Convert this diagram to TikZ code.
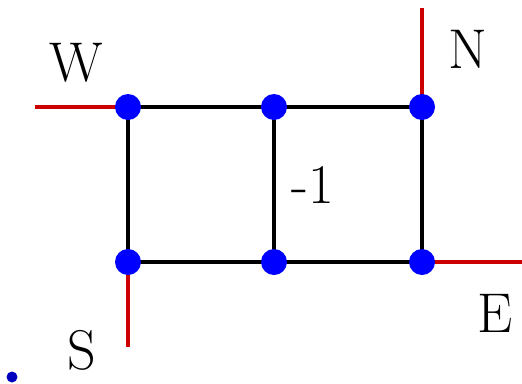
\documentclass[tikz,border=0pt]{standalone}
\usepackage{fontspec}
\usetikzlibrary{backgrounds}
\begin{document}
\begin{tikzpicture}[x=1pt,y=-1pt,
  vtx/.style={circle,fill=blue,inner sep=0pt,minimum size=26pt},
  edge/.style={line width=4pt,black},
  ext/.style={line width=3.5pt,red!80!black},
  lbl/.style={font=\rmfamily\fontsize{56}{64}\selectfont,inner sep=0pt}]
\useasboundingbox (0,0) rectangle (522,383);
\node[vtx] (a) at (128,107) {};
\node[vtx] (b) at (274,107) {};
\node[vtx] (c) at (422,107) {};
\node[vtx] (d) at (128,262) {};
\node[vtx] (f) at (274,262) {};
\node[vtx] (g) at (422,262) {};
\coordinate (w) at (35,107);
\coordinate (n) at (422,8);
\coordinate (e) at (524,262);
\coordinate (s) at (128,347);
\begin{scope}[on background layer]
\draw[ext] (w) -- (a.center);
\draw[ext] (n) -- (c.center);
\draw[ext] (e) -- (g.center);
\draw[ext] (s) -- (d.center);
\draw[edge] (a.center) -- (b.center) -- (c.center) -- (g.center) -- (f.center) -- (d.center) -- cycle;
\draw[edge] (b.center) -- (f.center);
\end{scope}
\node[lbl] (lw) at (76,63) {W};
\node[lbl] (ln) at (468,49) {N};
\node[lbl] (le) at (495,313) {E};
\node[lbl] (ls) at (82,350) {S};
\node[lbl] (lm) at (313,185) {-1};
\node[circle,fill=blue!75!black,inner sep=0pt,minimum size=11pt] (dot) at (12,377) {};
\end{tikzpicture}
\end{document}
